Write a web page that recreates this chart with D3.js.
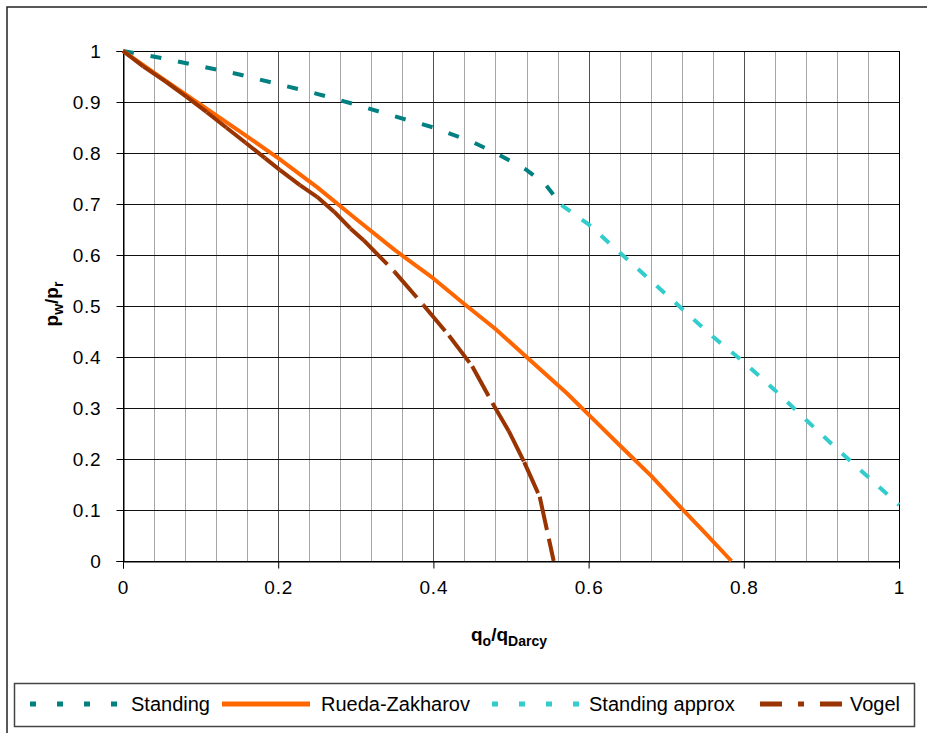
<!DOCTYPE html>
<html>
<head>
<meta charset="utf-8">
<script src="https://cdn.jsdelivr.net/npm/d3@7"></script>
<style>
	body { margin: 0; background: #fff; }
	svg { display: block; font-family: "Liberation Sans", Arial, sans-serif; }
</style>
</head>
<body>
<div id="chart"></div>
<script>
// Data: [q_o/q_Darcy, p_w/p_r]
var standing = [[0,1],[0.05,0.986],[0.1,0.97],[0.15,0.954],[0.2,0.935],[0.25,0.916],[0.3,0.895],
	[0.35,0.872],[0.4,0.85],[0.45,0.822],[0.48,0.8],[0.52,0.767],[0.545,0.737],[0.565,0.698]];
var ruedaZakharov = [[0,1],[0.05,0.947],[0.1,0.895],[0.15,0.843],[0.2,0.79],[0.25,0.733],[0.3,0.671],
	[0.35,0.61],[0.4,0.554],[0.439,0.505],[0.48,0.455],[0.52,0.4],[0.572,0.329],[0.6,0.287],[0.64,0.227],
	[0.68,0.168],[0.718,0.106],[0.75,0.055],[0.784,0]];
var standingApprox = [[0.565,0.698],[0.6,0.66],[0.64,0.605],[0.68,0.55],[0.72,0.495],[0.76,0.44],
	[0.8,0.39],[0.84,0.335],[0.88,0.277],[0.92,0.22],[0.96,0.165],[1,0.11]];
var vogel = [[0,1],[0.026,0.97],[0.055,0.94],[0.082,0.91],[0.108,0.88],[0.133,0.85],[0.158,0.82],
	[0.183,0.79],[0.202,0.767],[0.228,0.737],[0.25,0.714],[0.272,0.685],[0.293,0.652],[0.31,0.629],
	[0.35,0.567],[0.387,0.502],[0.42,0.442],[0.45,0.382],[0.476,0.31],[0.497,0.255],[0.517,0.194],
	[0.537,0.126],[0.555,0]];

var xTicks = [0, 0.2, 0.4, 0.6, 0.8, 1];
var xMinor = d3.range(1, 25).map(function(i) { return i * 0.04; });
var yTicks = [0, 0.1, 0.2, 0.3, 0.4, 0.5, 0.6, 0.7, 0.8, 0.9, 1];
var seriesNames = ["Standing", "Rueda-Zakharov", "Standing approx", "Vogel"];

// Global variables
var width = 927,
	height = 733,
	svg,
	x,
	y,
	line;

var plot = { left: 123, right: 899, top: 51, bottom: 561 };

function init() {
	setChart();
	drawGrid();
	drawAxes();
	drawSeries();
	drawLegend();
}

function setChart() {
	svg = d3.select("#chart")
		.append("svg")
		.attr("width", width)
		.attr("height", height);

	// outer chart border (right/bottom edges fall outside the picture)
	svg.append("rect")
		.attr("x", 7)
		.attr("y", 7)
		.attr("width", 930)
		.attr("height", 740)
		.attr("fill", "none")
		.attr("stroke", "#222")
		.attr("stroke-width", 1.5);

	x = d3.scaleLinear().domain([0, 1]).range([plot.left, plot.right]);
	y = d3.scaleLinear().domain([0, 1]).range([plot.bottom, plot.top]);
	line = d3.line()
		.x(function(d) { return x(d[0]); })
		.y(function(d) { return y(d[1]); });
}

function drawGrid() {
	var grid = svg.append("g");

	grid.selectAll(".vminor")
		.data(xMinor)
		.enter()
		.append("line")
		.attr("x1", function(d) { return Math.round(x(d)) + 0.5; })
		.attr("x2", function(d) { return Math.round(x(d)) + 0.5; })
		.attr("y1", plot.top)
		.attr("y2", plot.bottom)
		.attr("stroke", function(d) { return Math.abs(d * 5 - Math.round(d * 5)) < 1e-6 ? "#505050" : "#a6a6a6"; })
		.attr("stroke-width", 1);

	grid.selectAll(".hline")
		.data(yTicks)
		.enter()
		.append("line")
		.attr("x1", plot.left)
		.attr("x2", plot.right)
		.attr("y1", function(d) { return Math.round(y(d)) + 0.5; })
		.attr("y2", function(d) { return Math.round(y(d)) + 0.5; })
		.attr("stroke", "#111")
		.attr("stroke-width", 1);

	// plot area frame
	grid.append("rect")
		.attr("x", plot.left + 0.5)
		.attr("y", plot.top + 0.5)
		.attr("width", plot.right - plot.left)
		.attr("height", plot.bottom - plot.top)
		.attr("fill", "none")
		.attr("stroke", "#000")
		.attr("stroke-width", 1);
}

function drawAxes() {
	var xAxis = d3.axisBottom(x)
		.tickValues(xTicks)
		.tickSize(7)
		.tickPadding(12)
		.tickFormat(d3.format("~g"));
	var yAxis = d3.axisLeft(y)
		.tickValues(yTicks)
		.tickSize(7)
		.tickPadding(15)
		.tickFormat(d3.format("~g"));

	var gx = svg.append("g")
		.attr("transform", "translate(0," + (plot.bottom + 0.5) + ")")
		.call(xAxis);
	var gy = svg.append("g")
		.attr("transform", "translate(" + (plot.left + 0.5) + ",0)")
		.call(yAxis);

	[gx, gy].forEach(function(g) {
		g.select(".domain").attr("stroke", "#000");
		g.selectAll(".tick line").attr("stroke", "#000");
		g.selectAll(".tick text")
			.attr("fill", "#000")
			.style("font-size", "19px")
			.style("letter-spacing", "0.8px")
			.style("font-family", "'Liberation Sans', Arial, sans-serif");
	});

	// x title: q_o/q_Darcy
	var xt = svg.append("text")
		.attr("x", 509)
		.attr("y", 641)
		.attr("text-anchor", "middle")
		.style("font-size", "19px")
		.style("font-weight", "bold");
	xt.append("tspan").text("q");
	xt.append("tspan").attr("dy", 5).style("font-size", "14px").text("o");
	xt.append("tspan").attr("dy", -5).text("/q");
	xt.append("tspan").attr("dy", 5).style("font-size", "14px").text("Darcy");

	// y title: p_w/p_r
	var yt = svg.append("text")
		.attr("transform", "translate(58,304) rotate(-90)")
		.attr("text-anchor", "middle")
		.style("font-size", "19px")
		.style("font-weight", "bold");
	yt.append("tspan").text("p");
	yt.append("tspan").attr("dy", 5).style("font-size", "14px").text("w");
	yt.append("tspan").attr("dy", -5).text("/p");
	yt.append("tspan").attr("dy", 5).style("font-size", "14px").text("r");
}

function drawSeries() {
	var lines = svg.append("g")
		.attr("fill", "none");

	lines.append("path")
		.datum(standing)
		.attr("d", line)
		.attr("stroke", "#008080")
		.attr("stroke-width", 4)
		.attr("stroke-dasharray", "11,17");

	lines.append("path")
		.datum(ruedaZakharov)
		.attr("d", line)
		.attr("stroke", "#FF6600")
		.attr("stroke-width", 4)
		.attr("stroke-linejoin", "round");

	lines.append("path")
		.datum(standingApprox)
		.attr("d", line)
		.attr("stroke", "#33CCCC")
		.attr("stroke-width", 4)
		.attr("stroke-dasharray", "11,14");

	// Vogel: dash pattern restarts on every segment, like the original
	lines.selectAll(".vogel")
		.data(d3.pairs(vogel))
		.enter()
		.append("path")
		.attr("d", line)
		.attr("stroke", "#993300")
		.attr("stroke-width", 4)
		.attr("stroke-dasharray", "34,9");
}

function drawLegend() {
	var legend = svg.append("g");

	legend.append("rect")
		.attr("x", 14.5)
		.attr("y", 683.5)
		.attr("width", 900)
		.attr("height", 43)
		.attr("fill", "#fff")
		.attr("stroke", "#444")
		.attr("stroke-width", 1.5);

	var items = [
		{ x0: 30, x1: 118, tx: 131, color: "#008080", dash: "6,21" },
		{ x0: 222, x1: 310, tx: 321, color: "#FF6600", dash: null },
		{ x0: 492, x1: 580, tx: 589, color: "#33CCCC", dash: "6,21" },
		{ x0: 760, x1: 846, tx: 850, color: "#993300", dash: "22,16,6,16" }
	];

	items.forEach(function(it, i) {
		legend.append("line")
			.attr("x1", it.x0)
			.attr("x2", it.x1)
			.attr("y1", 704)
			.attr("y2", 704)
			.attr("stroke", it.color)
			.attr("stroke-width", 5)
			.attr("stroke-dasharray", it.dash);
		legend.append("text")
			.attr("x", it.tx)
			.attr("y", 711)
			.style("font-size", "20px")
			.attr("fill", "#000")
			.text(seriesNames[i]);
	});
}

window.onload = init;
</script>
</body>
</html>
